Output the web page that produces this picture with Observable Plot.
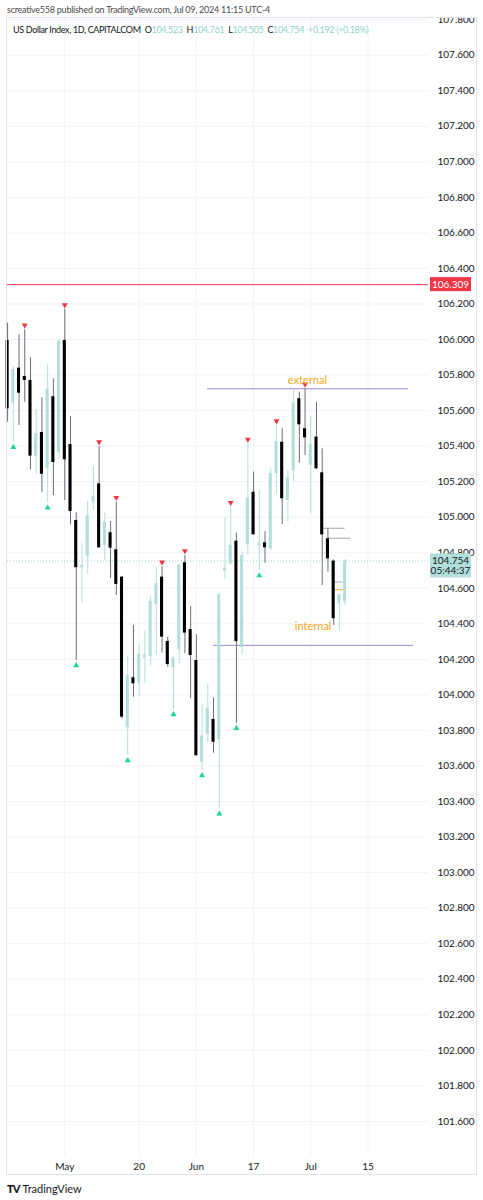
<!DOCTYPE html>
<html><head><meta charset="utf-8">
<script src="https://cdn.jsdelivr.net/npm/d3@7"></script>
<script src="https://cdn.jsdelivr.net/npm/@observablehq/plot@0.6"></script>
<style>
body{margin:0;background:#fff;width:483px;height:1200px;position:relative;overflow:hidden;font-family:Lato,"DejaVu Sans",sans-serif;}
#pub{position:absolute;left:7px;top:4px;font-size:9px;letter-spacing:-0.25px;color:#4a4a4a;white-space:nowrap;}
#chart{position:absolute;left:0;top:18px;}
#frame{position:absolute;left:6px;top:17px;width:471px;height:1158px;border:1px solid #e0e3eb;box-sizing:border-box;pointer-events:none;}
#legend{position:absolute;left:13px;top:24px;font-size:9px;letter-spacing:-0.35px;color:#131722;white-space:nowrap;}
#legend .v{color:#8fd3c7}
#legend .g{margin-left:4px}
#logo{position:absolute;left:7px;top:1182px;font-size:11px;color:#131722;white-space:nowrap;}
#logo b{font-weight:900;letter-spacing:-1px;margin-right:3px;}
</style></head><body>
<div id="pub">screative558 published on TradingView.com, Jul 09, 2024 11:15 UTC-4</div>
<div id="chart"></div>
<div id="frame"></div>
<div id="legend">US Dollar Index, 1D, CAPITALCOM<span class="g">O</span><span class="v">104.523</span><span class="g">H</span><span class="v">104.761</span><span class="g">L</span><span class="v">104.505</span><span class="g">C</span><span class="v">104.754</span><span class="v g">+0.192 (+0.18%)</span></div>
<div id="logo"><b>TV</b>TradingView</div>
<script>
const dates = ["Apr 17","Apr 18","Apr 19","Apr 22","Apr 23","Apr 24","Apr 25","Apr 26","Apr 29","Apr 30",
"May 1","May 2","May 3","May 6","May 7","May 8","May 9","May 10","May 13","May 14","May 15","May 16","May 17",
"May 20","May 21","May 22","May 23","May 24","May 27","May 28","May 29","May 30","May 31",
"Jun 3","Jun 4","Jun 5","Jun 6","Jun 7","Jun 10","Jun 11","Jun 12","Jun 13","Jun 14",
"Jun 17","Jun 18","Jun 19","Jun 20","Jun 21","Jun 24","Jun 25","Jun 26","Jun 27","Jun 28",
"Jul 1","Jul 2","Jul 3","Jul 4","Jul 5","Jul 8","Jul 9"];
const open = [105.995,105.644,105.839,105.792,105.770,105.344,105.477,105.276,105.678,105.366,
105.995,105.409,104.982,104.716,104.779,105.085,105.188,104.841,104.913,104.817,104.663,103.815,104.097,
104.068,104.207,104.216,104.509,104.663,104.301,104.153,104.254,104.744,104.368,
104.194,103.622,103.778,103.862,103.748,104.697,104.738,104.865,104.267,104.845,
105.141,104.841,104.856,104.822,105.245,105.422,105.094,105.263,105.667,105.498,
105.291,105.451,105.250,104.879,104.753,104.513,104.523];
const high = [106.092,105.850,106.027,106.055,105.897,105.605,105.672,105.858,105.779,106.004,
106.169,105.567,105.025,104.851,105.089,105.286,105.398,105.023,104.976,105.085,104.663,104.216,104.391,
104.284,104.359,104.550,104.719,104.721,104.325,104.215,104.738,104.785,104.498,
104.339,103.946,104.063,103.984,104.573,104.995,105.057,104.910,104.803,105.413,
105.254,105.151,104.920,105.273,105.516,105.498,105.263,105.717,105.704,105.723,
105.567,105.647,105.385,104.935,104.760,104.565,104.761];
const low = [105.535,105.422,105.516,105.647,105.267,105.245,105.138,105.081,105.122,105.325,
105.094,104.957,104.194,104.519,104.678,105.038,104.825,104.757,104.654,104.560,103.866,103.659,103.987,
103.991,104.063,104.166,104.224,104.236,104.156,103.918,104.175,104.232,103.978,
103.655,103.575,103.734,103.672,103.359,104.648,104.729,103.841,104.224,104.785,
104.900,104.700,104.741,104.813,105.132,104.959,104.972,105.201,105.304,105.347,
105.019,105.267,104.616,104.691,104.391,104.363,104.505];
const close = [105.610,105.831,105.698,105.770,105.344,105.470,105.242,105.721,105.308,105.991,
105.323,105.032,104.716,104.729,105.012,105.117,104.828,104.972,104.826,104.622,103.875,104.110,104.063,
104.228,104.224,104.526,104.626,104.325,104.171,104.207,104.729,104.348,104.222,
103.658,103.768,103.926,103.734,104.564,104.713,104.841,104.300,104.785,105.107,
104.901,104.856,104.828,105.245,105.426,105.104,105.222,105.642,105.520,105.447,
105.409,105.273,104.901,104.766,104.429,104.564,104.754];

// swing markers (candle indices)
const swingHighIdx = [3,10,16,19,27,31,39,42,47,52];
const swingLowIdx = [1,7,12,21,29,34,37,40,44];

// axis ticks
const yTicks = [101.6,101.8,102.0,102.2,102.4,102.6,102.8,103.0,103.2,103.4,103.6,103.8,104.0,104.2,104.4,104.6,104.8,105.0,105.2,105.4,105.6,105.8,106.0,106.2,106.4,106.6,106.8,107.0,107.2,107.4,107.6,107.8];
const xTickIdx = [10,23,33,43,53,63];
const xTickLabels = ["May","20","Jun","17","Jul","15"];

// horizontal levels
const levelNames = ["external","internal"];
const levelValues = [105.723,104.279];
const levelFrom = [34.95,36.0];
const levelTo = [70.1,70.96];
const levelLabelAt = [52.5,53.5];
const levelLabelDy = [-4,-15];

const stubValues = [104.938,104.882,104.635,104.592];
const stubFrom = [55.0,56.0,57.0,57.3];
const stubTo = [59.0,60.0,58.65,58.8];
const stubColors = ["#a3a6af","#a3a6af","#a3a6af","#f7a440"];

const lastPrice = 104.754;
const countdown = "05:44:37";
const alertLevel = 106.309;

const candles = dates.map((d,i)=>({i, date:d, o:open[i], h:high[i], l:low[i], c:close[i], up: close[i]>=open[i]}));
const hiMarks = swingHighIdx.map(i=>({i, v:high[i]}));
const loMarks = swingLowIdx.map(i=>({i, v:low[i]}));
const levels = levelNames.map((n,k)=>({n, v:levelValues[k], x1:levelFrom[k], x2:levelTo[k], lx:levelLabelAt[k], dy:levelLabelDy[k]}));
const stubs = stubValues.map((v,k)=>({v, x1:stubFrom[k], x2:stubTo[k], col:stubColors[k]}));

const UP = "#b2dfdb", DOWN = "#000000", DOWNWICK = "#6a6d78";
const labelMap = new Map(xTickIdx.map((t,k)=>[t,xTickLabels[k]]));

const plot = Plot.plot({
  width: 483, height: 1157,
  marginLeft: 7, marginRight: 55, marginTop: 0, marginBottom: 19,
  x: {type:"linear", domain: [-0.017, 73.58]},
  y: {domain: [101.4026, 107.8066]},
  style: {background:"transparent", overflow:"hidden", fontFamily:"Lato, 'DejaVu Sans', sans-serif"},
  marks: [
    Plot.ruleY(yTicks, {stroke:"#f0f3fa", strokeWidth:1}),
    Plot.ruleX(xTickIdx, {stroke:"#f0f3fa", strokeWidth:1}),
    Plot.axisY({ticks:yTicks, anchor:"right", tickSize:0, tickPadding:9, tickFormat:d3.format(".3f"), fontSize:10, color:"#131722"}),
    Plot.axisX({ticks:xTickIdx, tickSize:0, tickPadding:6, tickFormat:d=>labelMap.get(d), fontSize:10, color:"#131722"}),
    Plot.ruleY([alertLevel], {stroke:"#f23645", strokeWidth:1}),
    Plot.ruleY([lastPrice], {stroke:"#9fd8d0", strokeWidth:1, strokeDasharray:"1,2"}),
    Plot.ruleY(levels, {y:"v", x1:"x1", x2:"x2", stroke:"#9b87d4", strokeWidth:1}),
    Plot.ruleY(stubs, {y:"v", x1:"x1", x2:"x2", stroke:"col", strokeWidth:1}),
    Plot.ruleX(candles, {x:"i", y1:"l", y2:"h", stroke:d=>d.up?UP:DOWNWICK, strokeWidth:1}),
    Plot.rect(candles, {x1:d=>d.i-0.27, x2:d=>d.i+0.27, y1:"o", y2:"c", fill:d=>d.up?UP:DOWN}),
    Plot.dot(hiMarks, {x:"i", y:"v", symbol:"triangle", r:2.2, fill:"#f23645", rotate:180, dy:-4.5}),
    Plot.dot(loMarks, {x:"i", y:"v", symbol:"triangle", r:2.2, fill:"#19d68c", dy:5})
  ]
});
document.getElementById("chart").appendChild(plot);

const svg = d3.select(plot);
const ys = plot.scale("y"), xs = plot.scale("x");
const g = svg.append("g").attr("font-family","Lato, 'DejaVu Sans', sans-serif");

// level labels
levels.forEach(l=>{
  g.append("text").attr("x",xs.apply(l.lx)).attr("y",ys.apply(l.v)+l.dy).attr("text-anchor","middle")
   .attr("font-size",11).attr("fill","#f5a623").text(l.n);
});

// price labels on the right axis
function priceBox(v, lines, bg, fg){
  const y = ys.apply(v);
  const h = lines.length===1 ? 14 : 24;
  const top = y-7;
  g.append("rect").attr("x",430).attr("y",top).attr("width",41).attr("height",h).attr("fill",bg);
  lines.forEach((t,k)=>{
    g.append("text").attr("x",450.5).attr("y",top+10.5+k*10).attr("text-anchor","middle")
     .attr("font-size",10).attr("fill",fg).text(t);
  });
}
priceBox(alertLevel, [d3.format(".3f")(alertLevel)], "#f23645", "#ffffff");
priceBox(lastPrice, [d3.format(".3f")(lastPrice), countdown], "#b2dfdb", "#131722");
</script>
</body></html>
